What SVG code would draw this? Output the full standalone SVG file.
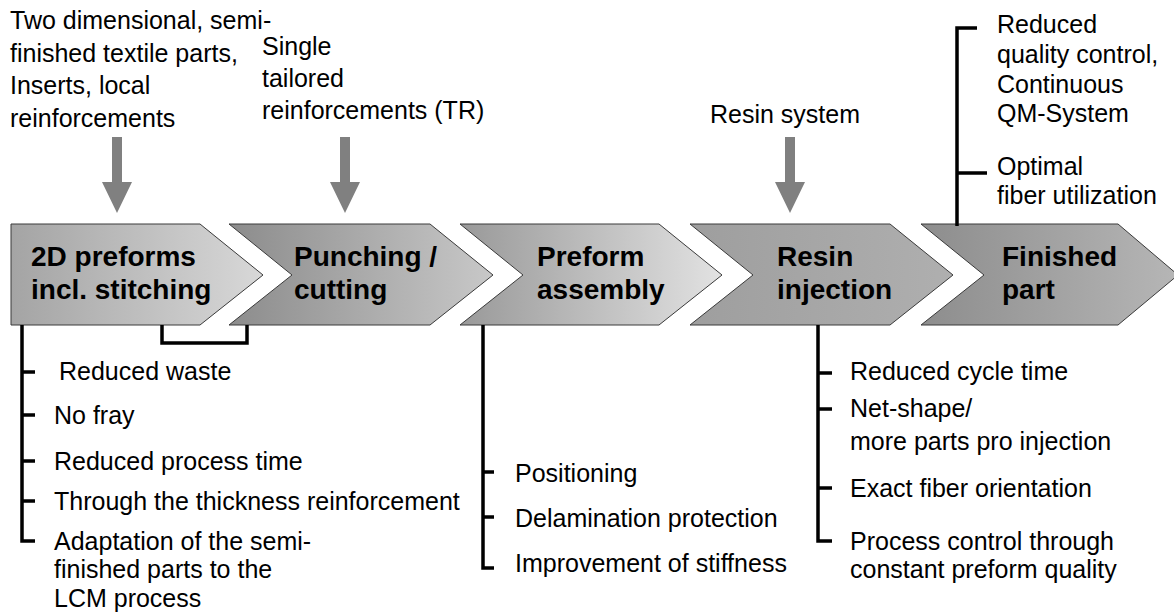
<svg xmlns="http://www.w3.org/2000/svg" width="1174" height="614" viewBox="0 0 1174 614">
  <defs>
    <linearGradient id="g1" x1="0" y1="0" x2="1" y2="0">
      <stop offset="0" stop-color="#a4a4a4"/>
      <stop offset="1" stop-color="#d8d8d8"/>
    </linearGradient>
    <linearGradient id="g2" x1="0" y1="0" x2="1" y2="0">
      <stop offset="0" stop-color="#8c8c8c"/>
      <stop offset="1" stop-color="#c8c8c8"/>
    </linearGradient>
    <linearGradient id="g3" x1="0" y1="0" x2="1" y2="0">
      <stop offset="0" stop-color="#999999"/>
      <stop offset="1" stop-color="#e2e2e2"/>
    </linearGradient>
    <linearGradient id="g4" x1="0" y1="0" x2="1" y2="0">
      <stop offset="0" stop-color="#9e9e9e"/>
      <stop offset="1" stop-color="#afafaf"/>
    </linearGradient>
    <linearGradient id="g5" x1="0" y1="0" x2="1" y2="0">
      <stop offset="0" stop-color="#8d8d8d"/>
      <stop offset="1" stop-color="#b6b6b6"/>
    </linearGradient>
    <!-- thick grey input arrow pointing down, tip at origin -->
    <path id="inArrow" d="M-5,-76 H5 V-31 H15 L0,0 L-15,-31 H-5 Z"/>
  </defs>
  <style>
    .step { stroke: #3a3a3a; stroke-width: 1; }
    .label { font-family: "Liberation Sans", Arial, sans-serif; font-size: 28px; font-weight: bold; fill: #000; }
    .txt { font-family: "Liberation Sans", Arial, sans-serif; font-size: 25px; fill: #000; }
    .brace { fill: none; stroke: #000; stroke-width: 3.5; stroke-linejoin: miter; }
    .feed { fill: #808080; }
  </style>

  <!-- inputs above the process chain -->
  <g id="input-textiles">
    <text class="txt" x="10" y="29">Two dimensional, semi-</text>
    <text class="txt" x="10" y="62">finished textile parts,</text>
    <text class="txt" x="10" y="94">Inserts, local</text>
    <text class="txt" x="10" y="127">reinforcements</text>
  </g>
  <g id="input-tr">
    <text class="txt" x="262" y="55">Single</text>
    <text class="txt" x="262" y="87">tailored</text>
    <text class="txt" x="262" y="119">reinforcements (TR)</text>
  </g>
  <g id="input-resin">
    <text class="txt" x="710" y="123">Resin system</text>
  </g>

  <!-- process chain -->
  <g id="step-2d-preforms">
    <polygon class="step" fill="url(#g1)" points="11,224 200,224 263,275 200,325 11,325"/>
    <text class="label" x="31" y="266">2D preforms</text>
    <text class="label" x="31" y="299">incl. stitching</text>
  </g>
  <g id="step-punching">
    <polygon class="step" fill="url(#g2)" points="229,224 430,224 493,275 430,325 229,325 292,275"/>
    <text class="label" x="294" y="266">Punching /</text>
    <text class="label" x="294" y="299">cutting</text>
  </g>
  <g id="step-assembly">
    <polygon class="step" fill="url(#g3)" points="460,224 659,224 722,275 659,325 460,325 523,275"/>
    <text class="label" x="537" y="266">Preform</text>
    <text class="label" x="537" y="299">assembly</text>
  </g>
  <g id="step-injection">
    <polygon class="step" fill="url(#g4)" points="690,224 890,224 953,275 890,325 690,325 753,275"/>
    <text class="label" x="777" y="266">Resin</text>
    <text class="label" x="777" y="299">injection</text>
  </g>
  <g id="step-finished">
    <polygon class="step" fill="url(#g5)" points="921,224 1118,224 1178,275 1118,325 921,325 984,275"/>
    <text class="label" x="1002" y="266">Finished</text>
    <text class="label" x="1002" y="299">part</text>
  </g>

  <!-- benefit lists -->
  <g id="benefits-2d">
    <text class="txt" x="59" y="380">Reduced waste</text>
    <text class="txt" x="54" y="424">No fray</text>
    <text class="txt" x="54" y="470">Reduced process time</text>
    <text class="txt" x="54" y="510">Through the thickness reinforcement</text>
    <text class="txt" x="54" y="550">Adaptation of the semi-</text>
    <text class="txt" x="54" y="578">finished parts to the</text>
    <text class="txt" x="54" y="607">LCM process</text>
  </g>
  <g id="benefits-assembly">
    <text class="txt" x="515" y="482">Positioning</text>
    <text class="txt" x="515" y="527">Delamination protection</text>
    <text class="txt" x="515" y="572">Improvement of stiffness</text>
  </g>
  <g id="benefits-injection">
    <text class="txt" x="850" y="380">Reduced cycle time</text>
    <text class="txt" x="850" y="417">Net-shape/</text>
    <text class="txt" x="850" y="450">more parts pro injection</text>
    <text class="txt" x="850" y="497">Exact fiber orientation</text>
    <text class="txt" x="850" y="550">Process control through</text>
    <text class="txt" x="850" y="578">constant preform quality</text>
  </g>
  <g id="benefits-finished">
    <text class="txt" x="997" y="33">Reduced</text>
    <text class="txt" x="997" y="63">quality control,</text>
    <text class="txt" x="997" y="93">Continuous</text>
    <text class="txt" x="997" y="122">QM-System</text>
    <text class="txt" x="997" y="175">Optimal</text>
    <text class="txt" x="997" y="204">fiber utilization</text>
  </g>

  <!-- connectors: feed arrows and bracket lines -->
  <g id="connectors">
    <use href="#inArrow" class="feed" x="117" y="213"/>
    <use href="#inArrow" class="feed" x="345" y="213"/>
    <use href="#inArrow" class="feed" x="790" y="213"/>

    <path class="brace" d="M162,325 V343 H247 V325"/>

    <path class="brace" d="M22,325 V541 H35 M22,372 H35 M22,415 H35 M22,461 H35 M22,501 H35"/>
    <path class="brace" d="M483,325 V568 H494 M483,472 H494 M483,517 H494"/>
    <path class="brace" d="M818,325 V541 H832 M818,373 H832 M818,409 H832 M818,488 H832"/>
    <path class="brace" d="M957,226 V28 H977 M957,173 H987"/>
  </g>
</svg>
